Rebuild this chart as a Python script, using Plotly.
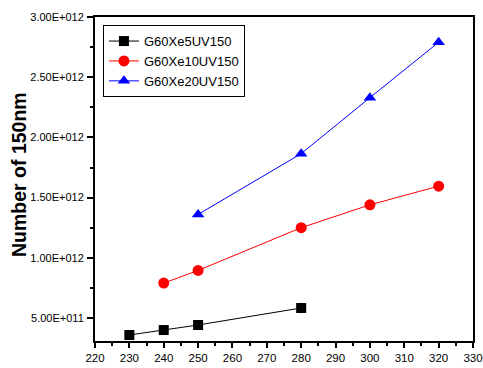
import plotly.graph_objects as go

x5 = [230, 240, 250, 280]
y5 = [3.59e11, 4.0e11, 4.42e11, 5.83e11]
x10 = [240, 250, 280, 300, 320]
y10 = [7.9e11, 8.95e11, 1.25e12, 1.44e12, 1.595e12]
x20 = [250, 280, 300, 320]
y20 = [1.36e12, 1.865e12, 2.33e12, 2.79e12]

ytick_vals = [5e11, 1e12, 1.5e12, 2e12, 2.5e12, 3e12]
ytick_text = ["5.00E+011", "1.00E+012", "1.50E+012", "2.00E+012", "2.50E+012", "3.00E+012"]
xtick_vals = [220, 230, 240, 250, 260, 270, 280, 290, 300, 310, 320, 330]
xtick_text = [str(v) for v in xtick_vals]

names = ["G60Xe5UV150", "G60Xe10UV150", "G60Xe20UV150"]

fig = go.Figure()
fig.add_trace(go.Scatter(x=x5, y=y5, name=names[0], mode="lines+markers",
                         line=dict(color="black", width=1),
                         marker=dict(symbol="square", size=10, color="black")))
fig.add_trace(go.Scatter(x=x10, y=y10, name=names[1], mode="lines+markers",
                         line=dict(color="red", width=1),
                         marker=dict(symbol="circle", size=11, color="red")))
fig.add_trace(go.Scatter(x=x20, y=y20, name=names[2], mode="lines+markers",
                         line=dict(color="blue", width=1),
                         marker=dict(symbol="triangle-up", size=11, color="blue")))

font = "Liberation Sans, Arial, sans-serif"
fig.update_layout(
    width=483, height=368,
    margin=dict(l=95, r=10, t=17, b=27, autoexpand=False),
    paper_bgcolor="white", plot_bgcolor="white",
    font=dict(family=font, color="black", size=11),
    showlegend=True,
    legend=dict(x=0.021, y=0.975, xanchor="left", yanchor="top",
                bordercolor="black", borderwidth=1, bgcolor="white",
                font=dict(size=13, family=font), itemwidth=30,
                tracegroupgap=0),
    xaxis=dict(range=[220, 330], tickmode="array", tickvals=xtick_vals, ticktext=xtick_text,
               automargin=False,
               showgrid=False, zeroline=False, showline=True, linecolor="black", linewidth=2,
               mirror=True, ticks="outside", ticklen=5, tickwidth=1.5, tickcolor="black",
               minor=dict(tickmode="linear", tick0=225, dtick=10, ticks="outside", ticklen=3,
                          tickcolor="black", tickwidth=1.5),
               tickfont=dict(size=11.5)),
    yaxis=dict(range=[3.09e11, 3.0e12], tickmode="array", tickvals=ytick_vals, ticktext=ytick_text,
               automargin=False,
               showgrid=False, zeroline=False, showline=True, linecolor="black", linewidth=2,
               mirror=True, ticks="outside", ticklen=6, tickwidth=1.5, tickcolor="black",
               minor=dict(tickmode="linear", tick0=2.5e11, dtick=5e11, ticks="outside", ticklen=3,
                          tickcolor="black", tickwidth=1.5),
               tickfont=dict(size=11), ticklabelstandoff=1),
    annotations=[dict(text="<b>Number of 150nm</b>", textangle=-90, xref="paper", yref="paper",
                      x=(19 - 95) / 378, y=(341 - 175) / 324, xanchor="center", yanchor="middle",
                      showarrow=False, font=dict(size=19.5, family=font, color="black"))],
)

fig.write_html("out.html")
